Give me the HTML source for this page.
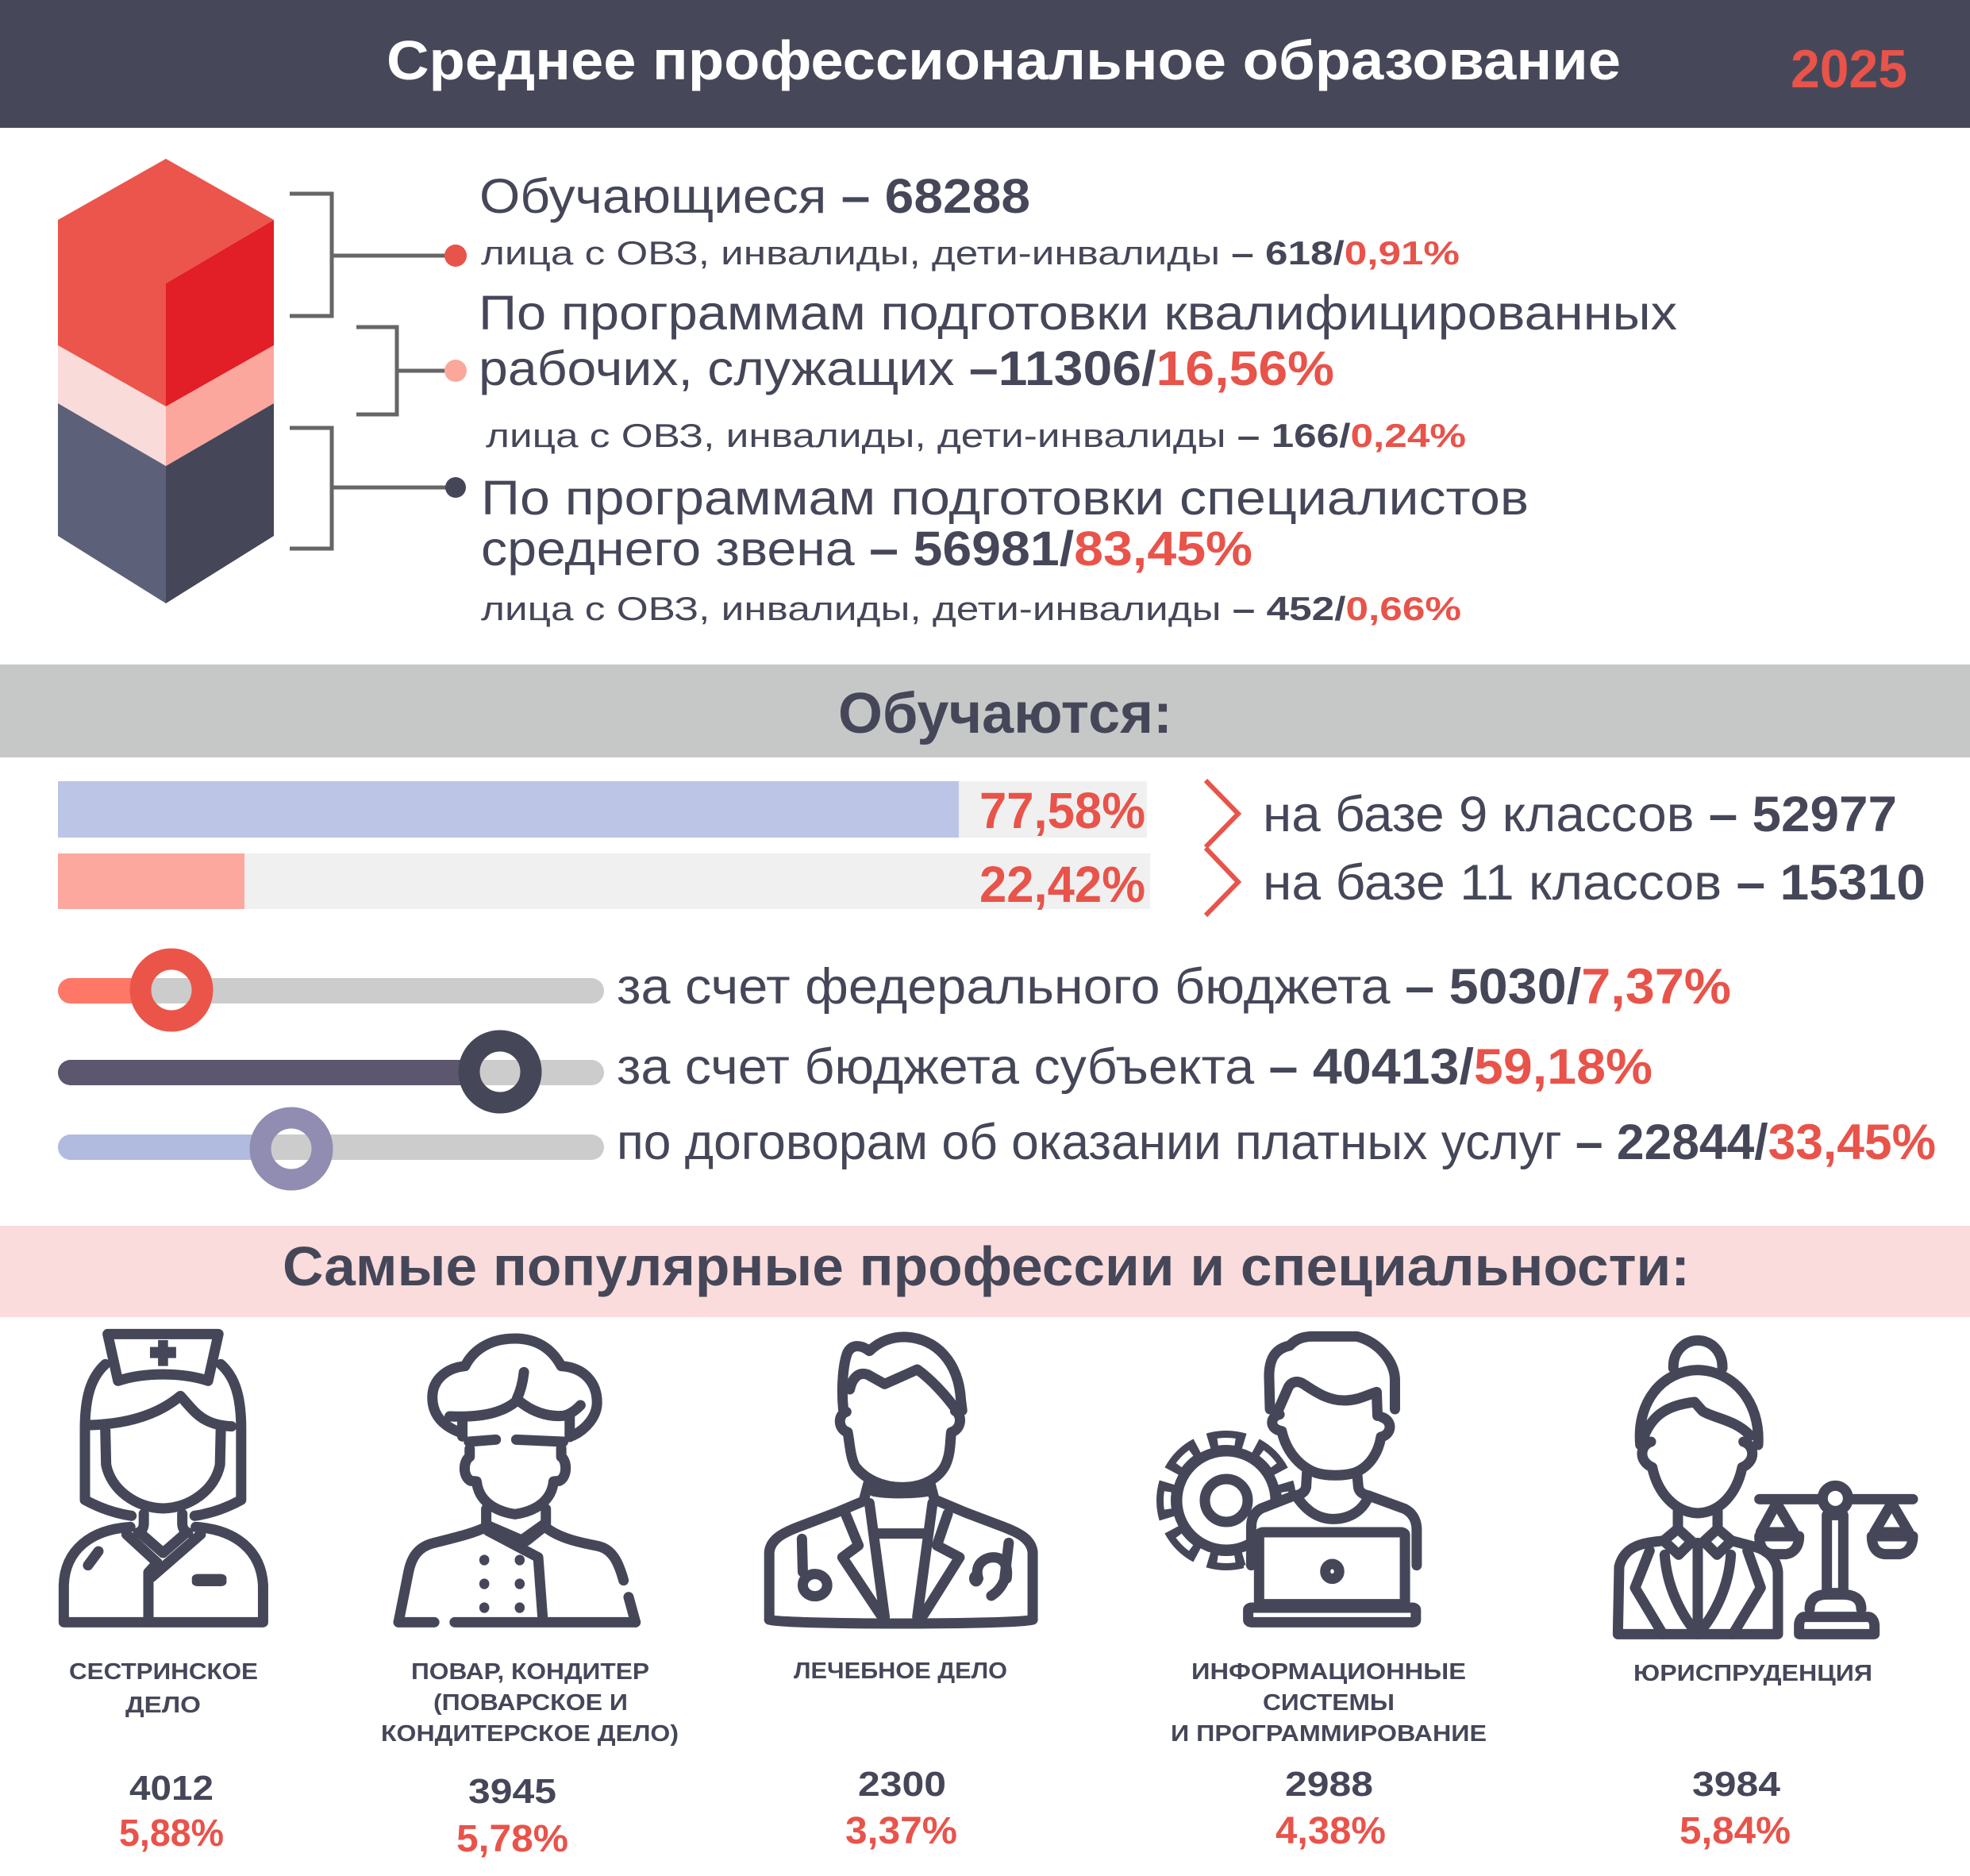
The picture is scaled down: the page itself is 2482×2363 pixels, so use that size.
<!DOCTYPE html>
<html><head><meta charset="utf-8">
<style>
html,body{margin:0;padding:0;background:#fff;}
svg{display:block;}
text{font-family:"Liberation Sans","Noto Sans CJK SC",sans-serif;}
.r{fill:#e8534a}
.d{fill:#454759}
.b{font-weight:bold}
.ic{fill:none;stroke:#454759;stroke-width:13;stroke-linecap:round;stroke-linejoin:round}
.ic path,.ic ellipse,.ic rect,.ic circle,.ic line,.ic polyline{vector-effect:non-scaling-stroke}
.f{fill:#454759;stroke:none}
</style></head><body>
<svg width="2482" height="2363" viewBox="0 0 2482 2363" xmlns="http://www.w3.org/2000/svg">
<rect width="2482" height="2363" fill="#fff"/>
<!-- Header -->
<rect x="0" y="0" width="2482" height="161" fill="#464859"/>
<text x="487" y="100" font-size="70" font-weight="bold" fill="#fff" textLength="1555" lengthAdjust="spacingAndGlyphs">Среднее профессиональное образование</text>
<text x="2256" y="110" font-size="68" font-weight="bold" class="r" textLength="147" lengthAdjust="spacingAndGlyphs">2025</text>

<!-- Cube -->
<polygon points="209,200 345,277 209,357 209,512 73,435 73,277" fill="#eb554b"/>
<polygon points="209,357 345,277 345,435 209,512" fill="#e21e26"/>
<polygon points="73,435 209,512 209,587 73,508" fill="#f9dbda"/>
<polygon points="209,512 345,435 345,508 209,587" fill="#fba79e"/>
<polygon points="73,508 209,587 209,760 73,675" fill="#5d6079"/>
<polygon points="209,587 345,508 345,675 209,760" fill="#454759"/>

<!-- Brackets -->
<g fill="none" stroke="#666" stroke-width="5">
<path d="M365,244 H418 V398 H365"/>
<path d="M418,322 H565"/>
<path d="M449,412 H500 V522 H449"/>
<path d="M500,467 H565"/>
<path d="M365,539 H418 V691 H365"/>
<path d="M418,614 H565"/>
</g>
<circle cx="574" cy="322" r="14" fill="#e8534a"/>
<circle cx="574" cy="467" r="14" fill="#fba79c"/>
<circle cx="574" cy="614" r="13" fill="#454759"/>

<!-- Top text -->
<text x="604" y="268" font-size="61" class="d" textLength="694" lengthAdjust="spacingAndGlyphs">Обучающиеся <tspan class="b">– 68288</tspan></text>
<text x="606" y="333" font-size="42" class="d" textLength="1233" lengthAdjust="spacingAndGlyphs">лица с ОВЗ, инвалиды, дети-инвалиды <tspan class="b">– 618/</tspan><tspan class="b r">0,91%</tspan></text>
<text x="603" y="415" font-size="61" class="d" textLength="1510" lengthAdjust="spacingAndGlyphs">По программам подготовки квалифицированных</text>
<text x="603" y="485" font-size="61" class="d" textLength="1078" lengthAdjust="spacingAndGlyphs">рабочих, служащих <tspan class="b">–11306/</tspan><tspan class="b r">16,56%</tspan></text>
<text x="612" y="563" font-size="42" class="d" textLength="1235" lengthAdjust="spacingAndGlyphs">лица с ОВЗ, инвалиды, дети-инвалиды <tspan class="b">– 166/</tspan><tspan class="b r">0,24%</tspan></text>
<text x="606" y="648" font-size="61" class="d" textLength="1320" lengthAdjust="spacingAndGlyphs">По программам подготовки специалистов</text>
<text x="606" y="712" font-size="61" class="d" textLength="972" lengthAdjust="spacingAndGlyphs">среднего звена <tspan class="b">– 56981/</tspan><tspan class="b r">83,45%</tspan></text>
<text x="606" y="781" font-size="42" class="d" textLength="1235" lengthAdjust="spacingAndGlyphs">лица с ОВЗ, инвалиды, дети-инвалиды <tspan class="b">– 452/</tspan><tspan class="b r">0,66%</tspan></text>

<!-- Обучаются band -->
<rect x="0" y="837" width="2482" height="117" fill="#c6c8c7"/>
<text x="1056" y="923" font-size="72" font-weight="bold" class="d" textLength="421" lengthAdjust="spacingAndGlyphs">Обучаются:</text>

<!-- Bars -->
<rect x="73" y="984" width="1372" height="71" fill="#f0f0f0"/>
<rect x="73" y="984" width="1135" height="71" fill="#bcc5e5"/>
<rect x="73" y="1075" width="1376" height="70" fill="#f0f0f0"/>
<rect x="73" y="1075" width="235" height="70" fill="#fca89e"/>
<text x="1234" y="1043" font-size="64" font-weight="bold" class="r" textLength="209" lengthAdjust="spacingAndGlyphs">77,58%</text>
<text x="1234" y="1136" font-size="64" font-weight="bold" class="r" textLength="209" lengthAdjust="spacingAndGlyphs">22,42%</text>
<polyline points="1519,983 1560,1025 1519,1067" fill="none" stroke="#e8534a" stroke-width="6"/>
<polyline points="1519,1068 1560,1111 1519,1153" fill="none" stroke="#e8534a" stroke-width="6"/>
<text x="1591" y="1047" font-size="63" class="d" textLength="799" lengthAdjust="spacingAndGlyphs">на базе 9 классов <tspan class="b">– 52977</tspan></text>
<text x="1591" y="1133" font-size="63" class="d" textLength="835" lengthAdjust="spacingAndGlyphs">на базе 11 классов <tspan class="b">– 15310</tspan></text>

<!-- Sliders -->
<rect x="73" y="1232" width="688" height="32" rx="16" fill="#cccccc"/>
<rect x="73" y="1232" width="113" height="32" rx="16" fill="#ff7767"/>
<circle cx="216" cy="1247" r="39" fill="none" stroke="#eb5549" stroke-width="27"/>
<rect x="73" y="1335" width="688" height="32" rx="16" fill="#cccccc"/>
<rect x="73" y="1335" width="527" height="32" rx="16" fill="#5c576f"/>
<circle cx="630" cy="1350" r="39" fill="none" stroke="#454759" stroke-width="27"/>
<rect x="73" y="1429" width="688" height="32" rx="16" fill="#cccccc"/>
<rect x="73" y="1429" width="264" height="32" rx="16" fill="#b1bbdf"/>
<circle cx="367" cy="1447" r="39" fill="none" stroke="#918cb1" stroke-width="27"/>
<text x="777" y="1264" font-size="63" class="d" textLength="1404" lengthAdjust="spacingAndGlyphs">за счет федерального бюджета <tspan class="b">– 5030/</tspan><tspan class="b r">7,37%</tspan></text>
<text x="777" y="1365" font-size="63" class="d" textLength="1305" lengthAdjust="spacingAndGlyphs">за счет бюджета субъекта <tspan class="b">– 40413/</tspan><tspan class="b r">59,18%</tspan></text>
<text x="777" y="1460" font-size="63" class="d" textLength="1662" lengthAdjust="spacingAndGlyphs">по договорам об оказании платных услуг <tspan class="b">– 22844/</tspan><tspan class="b r">33,45%</tspan></text>

<!-- Pink band -->
<rect x="0" y="1544" width="2482" height="115" fill="#f9dcdb"/>
<text x="356" y="1619" font-size="70" font-weight="bold" class="d" textLength="1773" lengthAdjust="spacingAndGlyphs">Самые популярные профессии и специальности:</text>

<!-- Icons: nurse & chef -->
<g class="ic" transform="translate(60,1660) scale(0.48473,0.33333)">
  <path d="M156,61 L444,61 L417,238 C350,205 250,205 183,238 Z"/>
  <path class="f" d="M287,84 H313 V110 H334 V152 H313 V182 H287 V152 H266 V110 H287 Z"/>
  <path d="M150,175 C112,225 97,300 97,420 L97,688 C140,722 180,740 218,748"/>
  <path d="M450,175 C488,225 503,300 503,420 L503,688 C460,722 420,740 382,748"/>
  <path d="M110,405 C230,400 300,350 345,295 C380,350 400,405 478,410"/>
  <path d="M150,425 L152,555 C165,650 230,718 300,720 C370,718 435,650 448,555 L450,425"/>
  <path d="M250,740 L250,775 C250,795 245,805 235,812"/>
  <path d="M350,740 L350,775 C350,795 355,805 365,812"/>
  <path d="M215,790 C110,800 45,880 42,1010 L42,1150 L560,1150 L560,1010 C555,880 490,800 385,790"/>
  <path d="M205,818 L285,925 L262,962 L262,1140"/>
  <path d="M398,818 L270,980"/>
  <path d="M240,812 L300,888 L360,812"/>
  <rect class="f" x="375" y="968" width="90" height="46" rx="15"/>
  <path d="M132,882 L105,935"/>

  <path d="M1070,432 C1015,400 1000,350 1000,300 C1000,230 1040,188 1085,182 C1110,110 1160,78 1215,78 C1270,78 1310,115 1335,182 C1395,188 1428,245 1428,320 C1428,372 1400,420 1365,445"/>
  <path d="M1045,372 C1140,378 1190,352 1222,310 C1258,355 1300,375 1340,370 C1360,365 1375,345 1385,330"/>
  <path d="M1078,385 L1078,448"/>
  <path d="M1357,372 L1357,450"/>
  <path d="M1095,468 L1165,460"/>
  <path d="M1218,460 L1340,468"/>
  <path d="M1238,205 C1235,245 1228,280 1220,305"/>
  <path d="M1097,495 L1097,525 C1080,540 1078,600 1100,616 L1115,618 C1120,690 1160,730 1215,742 C1270,730 1310,690 1315,618 L1330,616 C1352,600 1350,540 1335,525 L1335,493"/>
  <path d="M1140,722 L1140,778"/>
  <path d="M1295,722 L1295,778"/>
  <path d="M1145,785 L1232,840 L1292,778"/>
  <path d="M1140,790 C1100,818 1050,833 1000,852 C960,868 945,910 938,960 L912,1150"/>
  <path d="M1295,792 C1330,832 1380,848 1430,862 C1470,874 1485,930 1497,992"/>
  <path d="M1510,1055 L1528,1150"/>
  <path d="M912,1150 L1005,1150"/>
  <path d="M1058,1150 L1528,1150"/>
  <path d="M1145,805 L1275,905 L1287,1140"/>
  <path d="M1290,790 L1245,842"/>
  <ellipse class="f" cx="1135" cy="915" rx="13" ry="20"/>
  <ellipse class="f" cx="1227" cy="915" rx="13" ry="20"/>
  <ellipse class="f" cx="1135" cy="1005" rx="13" ry="20"/>
  <ellipse class="f" cx="1227" cy="1005" rx="13" ry="20"/>
  <ellipse class="f" cx="1135" cy="1095" rx="13" ry="20"/>
  <ellipse class="f" cx="1227" cy="1095" rx="13" ry="20"/>
</g>

<!-- Gear (orig coords) -->
<circle cx="1545" cy="1890" r="75" fill="none" stroke="#454759" stroke-width="26" stroke-dasharray="44 14.9" stroke-dashoffset="22"/>
<circle cx="1545" cy="1890" r="74.5" fill="none" stroke="#fff" stroke-width="9" stroke-dasharray="22 36.51" stroke-dashoffset="11"/>
<circle cx="1545" cy="1890" r="62" fill="#fff" stroke="#454759" stroke-width="13"/>
<circle cx="1545" cy="1890" r="27" fill="none" stroke="#454759" stroke-width="13"/>

<!-- Icons: doctor & IT -->
<g class="ic" transform="translate(950,1660) scale(0.54855,0.33333)">
  <path d="M205,345 C200,260 205,170 215,130 C225,100 245,100 265,125 C290,85 320,72 345,72 C420,75 470,170 475,310 L478,350"/>
  <path d="M220,270 C225,230 240,200 262,215 L300,250 L375,195 C405,230 440,290 470,360"/>
  <path d="M212,355 C192,365 192,420 215,432 C220,470 220,520 232,560 C255,610 295,640 340,640 C390,640 425,605 440,555 C452,510 450,470 453,432 C478,420 478,365 462,352"/>
  <path d="M262,628 L252,690"/>
  <path d="M405,628 L415,690"/>
  <path d="M275,655 C305,665 365,665 400,655"/>
  <path d="M35,1140 L35,885 C38,840 60,815 110,785 L190,735 L255,690"/>
  <path d="M640,1140 L640,885 C637,840 615,815 565,785 L485,735 L420,690"/>
  <path d="M35,1140 C60,1160 610,1160 640,1140"/>
  <path d="M265,700 L300,1130"/>
  <path d="M410,700 L375,1130"/>
  <path d="M285,815 L395,815"/>
  <path d="M210,740 L240,860 L203,905 L290,1120"/>
  <path d="M445,740 L420,860 L472,905 L390,1120"/>
  <path d="M110,835 L112,960"/>
  <ellipse cx="140" cy="1010" rx="28" ry="42"/>
  <path d="M585,850 L575,990 C568,1020 555,1040 545,1050"/>
  <path d="M515,985 C505,930 530,905 550,905 C570,905 585,930 580,985"/>
  <ellipse class="f" cx="510" cy="985" rx="16" ry="30"/>

  <path fill="#fff" stroke="none" d="M1240,672 L1165,720 C1148,735 1142,760 1142,790 L1142,935 L1125,935 L1125,1165 L1530,1165 L1530,672 Z"/>
  <path d="M1185,345 L1183,220 C1183,150 1200,115 1230,105 C1245,80 1260,70 1285,70 L1385,70 C1440,95 1470,170 1472,230 L1472,345"/>
  <path d="M1205,345 L1225,270 C1232,240 1248,235 1262,250 C1290,280 1320,315 1360,312 C1390,310 1410,290 1430,280 L1432,370"/>
  <path d="M1207,365 C1185,372 1182,420 1212,428 C1222,500 1250,560 1290,585 C1315,598 1355,598 1380,585 C1418,560 1435,500 1440,450 C1465,440 1468,390 1442,375"/>
  <path d="M1270,585 L1268,640 C1265,660 1255,670 1240,672"/>
  <path d="M1385,585 L1388,640 C1390,660 1400,668 1412,672"/>
  <path d="M1245,672 C1270,735 1300,760 1330,760 C1370,760 1400,725 1412,672"/>
  <path d="M1240,672 L1165,720 C1148,735 1142,760 1142,790 L1142,935"/>
  <path d="M1412,672 L1495,722 C1515,740 1522,770 1522,800 L1522,935"/>
  <rect x="1160" y="810" width="335" height="272" rx="10"/>
  <rect x="1135" y="1095" width="385" height="55" rx="8"/>
  <ellipse cx="1328" cy="958" rx="16" ry="28"/>
</g>

<!-- Icon: lawyer -->
<g class="ic" transform="translate(2020,1660) scale(0.33333)">
  <path d="M265,190 C262,130 305,85 357,85 C410,85 452,130 450,190"/>
  <path d="M140,480 C125,320 220,200 357,197 C495,200 595,320 585,480"/>
  <path d="M155,445 C185,370 240,330 345,318 L375,352 C420,380 500,385 555,445"/>
  <path d="M180,468 C140,480 130,540 185,565 C205,660 270,735 357,738 C445,735 505,660 525,565 C580,540 570,480 530,468"/>
  <path d="M282,730 L282,795"/>
  <path d="M432,730 L432,795"/>
  <path d="M228,842 L282,797 L335,845 L285,895 Z"/>
  <path d="M380,845 L432,797 L485,842 L430,895 Z"/>
  <path d="M228,842 C150,850 80,860 60,940 L55,1195 L660,1195 L660,960 C655,910 620,875 560,862 L485,842"/>
  <path d="M175,880 L120,1020 L225,1195"/>
  <path d="M545,880 L595,1020 L490,1195"/>
  <path d="M232,895 C240,1010 290,1120 357,1195"/>
  <path d="M482,895 C475,1010 425,1120 357,1195"/>
  <path d="M357,850 L357,1195"/>
  <path d="M590,685 L828,685"/>
  <path d="M926,685 L1170,685"/>
  <circle cx="877" cy="682" r="48"/>
  <rect x="845" y="745" width="62" height="295"/>
  <path d="M780,1100 C780,1060 810,1045 845,1045 L905,1045 C945,1045 975,1060 975,1100"/>
  <path d="M760,1130 L1000,1130 C1015,1130 1025,1145 1025,1165 L1025,1195 L740,1195 L740,1160 C740,1145 748,1130 760,1130 Z"/>
  <path d="M655,700 L595,810 M655,700 L720,810 M600,810 L715,810"/>
  <path d="M590,825 L740,825 C740,870 715,890 690,893 L640,893 C610,890 590,870 590,825 Z"/>
  <path d="M1090,700 L1025,810 M1090,700 L1155,810 M1030,810 L1150,810"/>
  <path d="M1015,825 L1170,825 C1170,870 1145,890 1120,893 L1065,893 C1035,890 1015,870 1015,825 Z"/>
</g>

<!-- Labels -->
<g font-size="29" font-weight="bold" class="d">
<text x="87" y="2115" textLength="238" lengthAdjust="spacingAndGlyphs">СЕСТРИНСКОЕ</text>
<text x="158" y="2157" textLength="95" lengthAdjust="spacingAndGlyphs">ДЕЛО</text>
<text x="518" y="2115" textLength="300" lengthAdjust="spacingAndGlyphs">ПОВАР, КОНДИТЕР</text>
<text x="546" y="2154" textLength="245" lengthAdjust="spacingAndGlyphs">(ПОВАРСКОЕ И</text>
<text x="480" y="2193" textLength="375" lengthAdjust="spacingAndGlyphs">КОНДИТЕРСКОЕ ДЕЛО)</text>
<text x="1000" y="2114" textLength="269" lengthAdjust="spacingAndGlyphs">ЛЕЧЕБНОЕ ДЕЛО</text>
<text x="1501" y="2115" textLength="346" lengthAdjust="spacingAndGlyphs">ИНФОРМАЦИОННЫЕ</text>
<text x="1591" y="2154" textLength="166" lengthAdjust="spacingAndGlyphs">СИСТЕМЫ</text>
<text x="1475" y="2193" textLength="398" lengthAdjust="spacingAndGlyphs">И ПРОГРАММИРОВАНИЕ</text>
<text x="2058" y="2117" textLength="301" lengthAdjust="spacingAndGlyphs">ЮРИСПРУДЕНЦИЯ</text>
</g>
<g font-size="44" font-weight="bold" class="d">
<text x="163" y="2267" textLength="106" lengthAdjust="spacingAndGlyphs">4012</text>
<text x="590" y="2271" textLength="111" lengthAdjust="spacingAndGlyphs">3945</text>
<text x="1081" y="2262" textLength="111" lengthAdjust="spacingAndGlyphs">2300</text>
<text x="1619" y="2262" textLength="111" lengthAdjust="spacingAndGlyphs">2988</text>
<text x="2132" y="2262" textLength="111" lengthAdjust="spacingAndGlyphs">3984</text>
</g>
<g font-size="48" font-weight="bold" class="r">
<text x="150" y="2325" textLength="132" lengthAdjust="spacingAndGlyphs">5,88%</text>
<text x="575" y="2332" textLength="141" lengthAdjust="spacingAndGlyphs">5,78%</text>
<text x="1065" y="2322" textLength="141" lengthAdjust="spacingAndGlyphs">3,37%</text>
<text x="1607" y="2322" textLength="139" lengthAdjust="spacingAndGlyphs">4,38%</text>
<text x="2116" y="2322" textLength="140" lengthAdjust="spacingAndGlyphs">5,84%</text>
</g>
</svg>
</body></html>
